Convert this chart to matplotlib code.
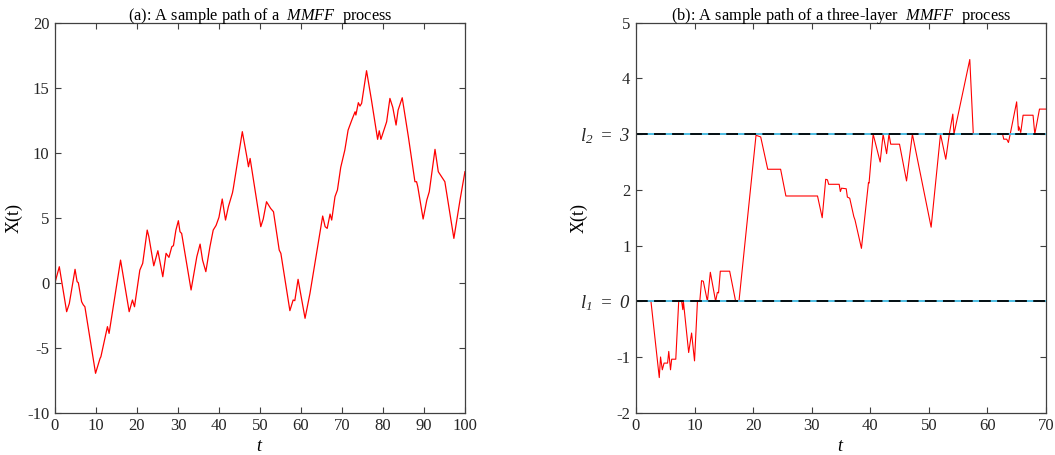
import matplotlib
matplotlib.use('Agg')
import matplotlib.pyplot as plt

### Fonts: Times-like serif everywhere, all maths set in italic of the same family
plt.rcParams['font.family'] = ['Liberation Serif', 'DejaVu Serif']
plt.rcParams['mathtext.fontset'] = 'custom'
plt.rcParams['mathtext.rm'] = 'Liberation Serif:italic'
plt.rcParams['mathtext.it'] = 'Liberation Serif:italic'
plt.rcParams['axes.unicode_minus'] = False
plt.rcParams['font.size'] = 12

# Panel (a): sample path of the MMFF process
tA = [0, 1.06, 2.85, 3.5, 4.9, 5.4, 5.7, 6.5, 6.9, 7.3, 9.9, 11.0, 11.2, 12.8, 13.2,
      14.6, 16.0, 18.1, 18.9, 19.4, 20.7, 21.4, 22.5, 22.9, 24.1, 25.1, 26.3, 27.1,
      27.8, 28.5, 28.9, 29.5, 30.1, 30.5, 30.9, 33.2, 34.6, 35.4, 36.0, 36.8, 37.8,
      38.6, 39.3, 40.0, 40.8, 41.6, 42.3, 43.3, 43.5, 45.7, 46.8, 47.2, 47.6, 50.2,
      50.8, 51.6, 52.6, 53.3, 54.7, 55.1, 57.3, 58.1, 58.5, 59.3, 61.0, 62.2, 65.3,
      65.9, 66.4, 67.1, 67.5, 68.3, 68.9, 69.7, 70.7, 71.5, 72.4, 73.2, 73.4, 74.0,
      74.4, 74.8, 76.0, 77.2, 78.7, 79.1, 79.5, 80.9, 81.7, 82.4, 83.2, 83.7, 84.7,
      86.2, 87.8, 88.2, 88.5, 89.8, 90.7, 91.3, 92.7, 93.5, 95.1, 97.3, 98.8, 100]
xA = [0, 1.23, -2.23, -1.6, 1.03, 0.08, 0, -1.46, -1.7, -1.85, -6.97, -5.82, -5.7,
      -3.38, -3.9, -1.08, 1.74, -2.23, -1.33, -1.85, 0.97, 1.49, 4.05, 3.54, 1.3,
      2.46, 0.46, 2.26, 1.95, 2.77, 2.85, 4.05, 4.77, 3.92, 3.79, -0.56, 2.0, 2.97,
      1.74, 0.85, 2.77, 4.05, 4.41, 5.03, 6.44, 4.82, 5.85, 6.92, 7.26, 11.62, 9.69,
      8.92, 9.56, 4.31, 4.9, 6.23, 5.72, 5.46, 2.51, 2.26, -2.15, -1.33, -1.38, 0.26,
      -2.74, -0.82, 5.13, 4.31, 4.18, 5.28, 4.82, 6.62, 7.13, 8.87, 10.2, 11.74,
      12.51, 13.15, 12.9, 13.85, 13.59, 13.8, 16.31, 14.05, 11.03, 11.69, 11.03,
      12.38, 14.18, 13.49, 12.13, 13.28, 14.23, 11.23, 7.77, 7.77, 7.38, 4.9, 6.36,
      7.0, 10.26, 8.54, 7.77, 3.41, 6.36, 8.54]

# Panel (b): three-layer MMFF path with layer levels
tB = [0, 2.56, 3.98, 4.2, 4.5, 4.8, 5.4, 5.6, 5.9, 6.1, 6.8, 7.3, 7.8, 8.0, 8.1,
      9.0, 9.5, 10.0, 10.5, 10.9, 11.2, 11.5, 12.2, 12.7, 13.6, 13.9, 14.1, 14.4,
      16.0, 17.0, 17.6, 20.5, 21.3, 22.5, 24.7, 25.6, 31.0, 31.8, 32.4, 32.7, 32.9,
      34.7, 34.9, 35.1, 35.9, 36.1, 36.5, 37.2, 37.4, 38.5, 39.7, 39.8, 40.5, 41.7,
      42.2, 42.8, 43.2, 43.5, 45.0, 46.2, 47.2, 50.4, 52.0, 52.9, 53.5, 54.1, 54.3,
      57.0, 57.6, 62.6, 62.8, 63.3, 63.6, 63.9, 65.0, 65.3, 65.4, 65.7, 66.1, 67.8,
      68.1, 68.9, 70]
xB = [0, 0, -1.37, -1.0, -1.23, -1.11, -1.11, -0.9, -1.23, -1.04, -1.04, 0, 0, -0.15,
      0, -0.92, -0.57, -1.07, 0, 0, 0.37, 0.36, 0, 0.52, 0, 0.16, 0.15, 0.54, 0.54,
      0.01, 0.01, 2.98, 2.95, 2.37, 2.37, 1.89, 1.89, 1.5, 2.19, 2.18, 2.1, 2.1, 1.97,
      2.03, 2.02, 1.87, 1.85, 1.52, 1.46, 0.95, 2.13, 2.12, 3.0, 2.5, 3.0, 2.65, 3.0,
      2.82, 2.82, 2.16, 3.0, 1.33, 3.0, 2.55, 3.0, 3.36, 3.0, 4.34, 3.0, 3.0, 2.91,
      2.91, 2.85, 3.0, 3.58, 3.07, 3.13, 3.03, 3.34, 3.34, 3.0, 3.45, 3.45]
layerLevels = [0, 3]
yTicksB = [-2, -1, 0, 1, 2, 3, 4, 5]
yLabelsB = ['-2', '-1', r'$l_1\ =\ 0$', '1', '2', r'$l_2\ =\ 3$', '4', '5']

axisGrey = '#404040'

def styleAxes(ax):

    # MATLAB-like box with inward ticks on all four sides:
    for eachSpine in ax.spines.values():
        eachSpine.set_color(axisGrey)
        eachSpine.set_linewidth(0.9)
    ax.tick_params(direction='in', top=True, right=True, length=4, width=0.8,
                   color=axisGrey, labelcolor='#262626', labelsize=12, pad=4)

fig = plt.figure(figsize=(10.55, 4.55), dpi=100)
axA = fig.add_axes([0.0521, 0.093, 0.3886, 0.857])
axB = fig.add_axes([0.6028, 0.093, 0.3886, 0.857])

# Left panel:
axA.plot(tA, xA, color='red', linewidth=0.9)
axA.set_xlim(0, 100)
axA.set_ylim(-10, 20)
axA.set_xticks(range(0, 101, 10))
axA.set_yticks(range(-10, 21, 5))
axA.set_xlabel('$t$', fontsize=13, labelpad=3)
axA.set_ylabel('X(t)', fontsize=13)
axA.yaxis.set_label_coords(-0.078, 0.5)
axA.set_title(r'(a): A sample path of a  $MMFF$  process', fontsize=11.8, pad=2)
styleAxes(axA)

# Right panel:
axB.plot(tB, xB, color='red', linewidth=0.8)
for eachLevel in layerLevels:
    axB.axhline(eachLevel, color='#3fb7e0', linewidth=1.3)
    axB.axhline(eachLevel, color='black', linewidth=1.3, linestyle=(0, (6.5, 3.5)))
axB.set_xlim(0, 70)
axB.set_ylim(-2, 5)
axB.set_xticks(range(0, 71, 10))
axB.set_yticks(yTicksB)
axB.set_yticklabels(yLabelsB)
axB.set_xlabel('$t$', fontsize=13, labelpad=3)
axB.set_ylabel('X(t)', fontsize=13)
axB.yaxis.set_label_coords(-0.117, 0.5)
axB.set_title(r'(b): A sample path of a three-layer  $MMFF$  process', fontsize=11.8, pad=2)
styleAxes(axB)

# Layer level labels are set a little larger:
for eachLabel in axB.get_yticklabels():
    if 'l_' in eachLabel.get_text():
        eachLabel.set_fontsize(13.5)

plt.savefig('out.png', dpi=100)
plt.close()
